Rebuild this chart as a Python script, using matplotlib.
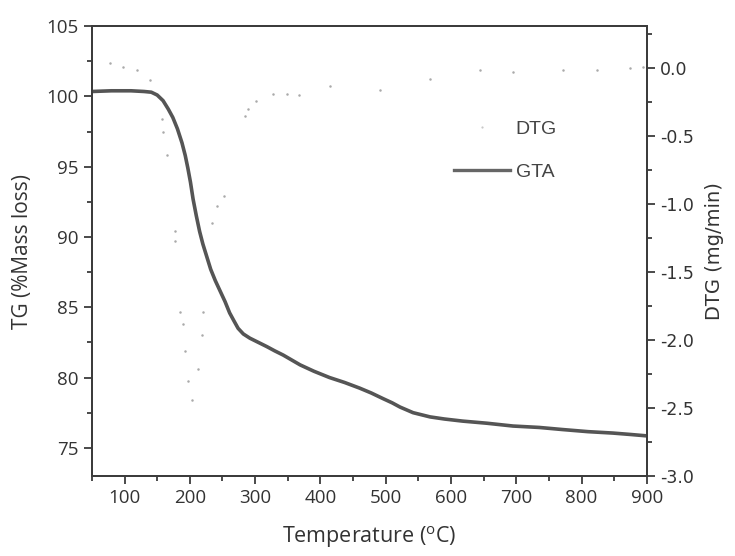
"""
TG / DTG thermogram (GTA) - recreated from reference figure
"""
import matplotlib
matplotlib.use("Agg")
import matplotlib.pyplot as plt
from matplotlib.ticker import MultipleLocator
from matplotlib.lines import Line2D

plt.rcParams["axes.unicode_minus"] = False
plt.rcParams["font.family"] = ["Open Sans", "DejaVu Sans"]

# ---- data -------------------------------------------------------
# TG curve (% mass)
tg_temp = [50, 80, 110, 130, 141, 150, 159, 167, 174, 181, 188, 193, 197,
           201, 205, 210, 215, 220, 226, 232, 239, 246, 254, 261, 268, 274,
           282, 292, 305, 318, 330, 343, 356, 369, 390, 414, 437, 460, 478,
           496, 510, 522, 532, 542, 555, 568, 590, 618, 655, 695, 735, 771,
           810, 848, 875, 900]
tg_mass = [100.35, 100.4, 100.4, 100.35, 100.3, 100.1, 99.7, 99.1, 98.5,
           97.7, 96.7, 95.8, 94.9, 93.9, 92.7, 91.5, 90.4, 89.5, 88.6, 87.7,
           86.9, 86.2, 85.4, 84.6, 84.0, 83.5, 83.1, 82.8, 82.5, 82.2, 81.9,
           81.6, 81.25, 80.9, 80.45, 80.0, 79.65, 79.25, 78.9, 78.5, 78.2,
           77.9, 77.7, 77.5, 77.35, 77.2, 77.05, 76.9, 76.75, 76.55, 76.45,
           76.3, 76.15, 76.05, 75.95, 75.85]

# DTG scatter (mg/min), faint dots
dtg_temp = [78, 97, 119, 139, 157, 159, 165, 177, 177, 185, 189, 192, 197,
            203, 212, 218, 220, 234, 241, 252, 284, 289, 301, 327, 349, 368,
            414, 491, 568, 644, 695, 771, 823, 874, 894]
dtg_rate = [0.04, 0.01, -0.01, -0.09, -0.37, -0.47, -0.64, -1.20, -1.27,
            -1.79, -1.88, -2.08, -2.30, -2.44, -2.21, -1.96, -1.79, -1.14,
            -1.01, -0.94, -0.35, -0.30, -0.24, -0.19, -0.19, -0.20, -0.13,
            -0.16, -0.08, -0.01, -0.03, -0.01, -0.01, 0.0, 0.01]

AX_COL = "#3c3c3c"
TXT_COL = "#333333"

fig = plt.figure(figsize=(7.35, 5.56), dpi=100)
ax = fig.add_axes([0.125, 0.144, 0.755, 0.809])
ax2 = ax.twinx()

ax.plot(tg_temp, tg_mass, color="#555555", lw=2.6, solid_joinstyle="round",
        solid_capstyle="round")
ax2.plot(dtg_temp, dtg_rate, ls="none", marker="o", ms=1.8,
         mec="none", mfc="#aaaaaa")

ax.set_xlim(50, 900)
ax.set_ylim(73, 105)
ax2.set_ylim(-3.0, 0.31)

ax.xaxis.set_major_locator(MultipleLocator(100))
ax.xaxis.set_minor_locator(MultipleLocator(50))
ax.yaxis.set_major_locator(MultipleLocator(5))
ax.yaxis.set_minor_locator(MultipleLocator(2.5))
ax2.yaxis.set_major_locator(MultipleLocator(0.5))
ax2.yaxis.set_minor_locator(MultipleLocator(0.25))
ax2.yaxis.set_major_formatter(plt.FuncFormatter(lambda v, p: f"{v:.1f}"))

for a in (ax, ax2):
    for s in a.spines.values():
        s.set_color(AX_COL)
        s.set_linewidth(1.4)

ax.tick_params(which="both", direction="out", color=AX_COL, width=1.3,
               top=False, right=False, labelsize=13.5, labelcolor=TXT_COL)
ax.tick_params(which="major", length=6)
ax.tick_params(which="minor", length=3.5)
ax2.tick_params(which="both", direction="out", color=AX_COL, width=1.3,
                labelsize=12.5, labelcolor=TXT_COL)
ax2.tick_params(which="major", length=6)
ax2.tick_params(which="minor", length=3.5)
for lab in ax2.get_yticklabels():
    lab.set_family("DejaVu Sans")

ax.set_xlabel("Temperature ($^\\mathregular{o}$C)", fontsize=15.5,
              color=TXT_COL, labelpad=12)
ax.set_ylabel("TG (%Mass loss)", fontsize=15, color=TXT_COL, labelpad=10)
ax2.set_ylabel("DTG (mg/min)", fontsize=14, color=TXT_COL, labelpad=8,
               family="DejaVu Sans")

handles = [Line2D([], [], ls="none", marker="o", ms=1.6, mec="none",
                  mfc="#c8c8c8"),
           Line2D([], [], color="#666666", lw=2.4)]
leg = ax2.legend(handles, ["DTG", "GTA"], loc="center",
                 bbox_to_anchor=(0.745, 0.724), frameon=False,
                 handlelength=2.9, handletextpad=0.3, labelspacing=1.3,
                 prop={"family": "Liberation Sans", "size": 14})
for t in leg.get_texts():
    t.set_color("#444444")

fig.savefig("out.png", dpi=100)
